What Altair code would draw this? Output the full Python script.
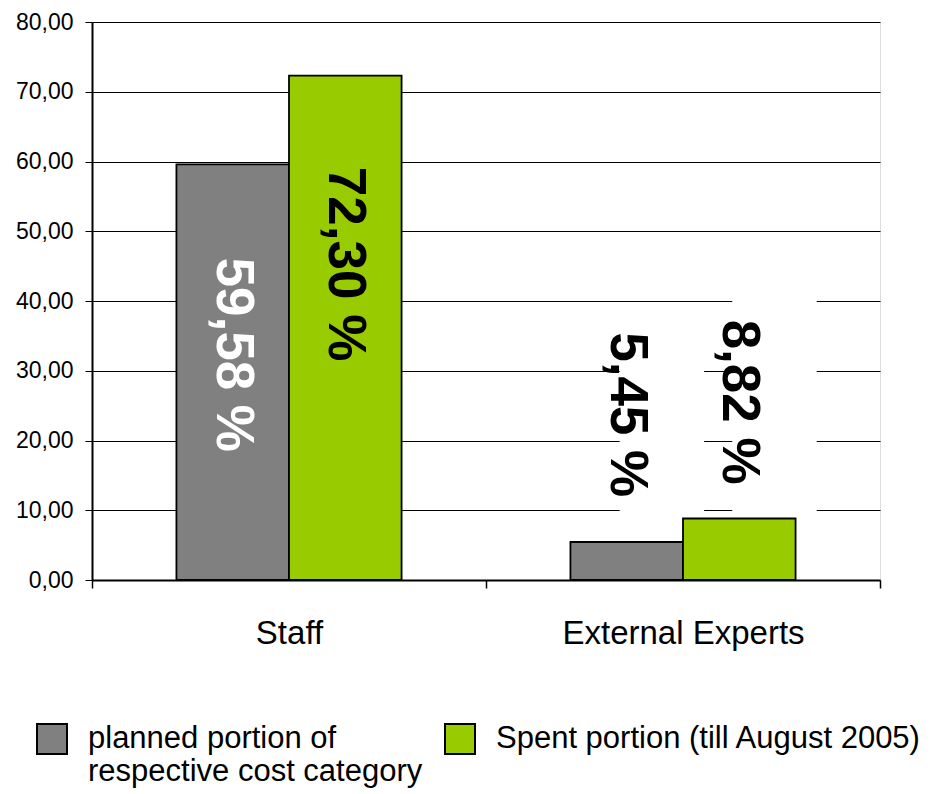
import json
import altair as alt
import pandas as pd

categories = ["Staff", "External Experts"]
series = ["planned portion of respective cost category", "Spent portion (till August 2005)"]
legend_lines = [["planned portion of", "respective cost category"], ["Spent portion (till August 2005)"]]
planned = [59.58, 5.45]
spent = [72.30, 8.82]
planned_label_pos = [32.3, 23.7]
spent_label_pos = [45.3, 25.5]
planned_text_color = ["white", "black"]
spent_text_color = ["black", "black"]
planned_box_low = [None, 9.3]
planned_box_high = [None, 38.5]
spent_box_low = [None, 9.3]
spent_box_high = [None, 41.0]
colors = ["#808080", "#99CC00"]

rows = []
for i, c in enumerate(categories):
    for s, vals, pos, tc, bl, bh in [
        (series[0], planned, planned_label_pos, planned_text_color, planned_box_low, planned_box_high),
        (series[1], spent, spent_label_pos, spent_text_color, spent_box_low, spent_box_high),
    ]:
        rows.append({
            "category": c,
            "series": s,
            "value": vals[i],
            "label": f"{vals[i]:.2f}".replace(".", ",") + " %",
            "label_pos": pos[i],
            "text_color": tc[i],
            "box_low": bl[i],
            "box_high": bh[i],
        })
df = pd.DataFrame(rows)

# legend labels: padded to two lines so both entries share the same height
padded = []
for lines in legend_lines:
    p = list(lines)
    while len(p) < 2:
        p.append("")
    padded.append(p)
legend_expr = (f"datum.label == {json.dumps(series[0])} ? {json.dumps(padded[0])} : "
               f"{json.dumps(padded[1])}")

FONT = "Arial, Liberation Sans"

x_enc = alt.X("category:N", sort=categories, title=None,
              scale=alt.Scale(paddingInner=0, paddingOuter=0),
              axis=alt.Axis(labelAngle=0, labelFontSize=33, labelFont=FONT, labelColor="black",
                            labelPadding=29, labelLimit=500, tickBand="extent", tickSize=8,
                            tickColor="black", tickWidth=1.5, domainColor="black",
                            domainWidth=2, grid=False))
xo_enc = alt.XOffset("series:N", sort=series,
                     scale=alt.Scale(paddingInner=0, paddingOuter=0.75))

bars = alt.Chart(df).mark_bar(stroke="black", strokeWidth=1.8).encode(
    x=x_enc,
    xOffset=xo_enc,
    y=alt.Y("value:Q", title=None,
            scale=alt.Scale(domain=[0, 80], nice=False),
            axis=alt.Axis(values=[0, 10, 20, 30, 40, 50, 60, 70, 80],
                          labelExpr="replace(format(datum.value, '.2f'), '.', ',')",
                          labelFontSize=23, labelFont=FONT, labelColor="black",
                          labelPadding=12, tickSize=7, tickColor="black",
                          domainColor="black", domainWidth=2,
                          grid=True, gridColor="black", gridWidth=1)),
    color=alt.Color("series:N", sort=series,
                    scale=alt.Scale(domain=series, range=colors),
                    legend=alt.Legend(title=None, orient="none", legendX=-56, legendY=701,
                                      direction="horizontal", columns=2,
                                      symbolType="square", symbolSize=900,
                                      symbolStrokeColor="black", symbolStrokeWidth=2,
                                      symbolOpacity=1,
                                      labelFontSize=31, labelFont=FONT, labelColor="black",
                                      labelLimit=1000, labelOffset=20, columnPadding=18,
                                      labelBaseline="middle",
                                      labelExpr=legend_expr)),
)

boxes = alt.Chart(df).transform_filter("datum.box_low != null").mark_bar(
    color="white", width={"band": 0.75}
).encode(
    x=alt.X("category:N", sort=categories),
    xOffset=alt.XOffset("series:N", sort=series),
    y=alt.Y("box_low:Q"),
    y2="box_high:Q",
)

texts = alt.Chart(df).mark_text(
    angle=90, fontSize=53, fontWeight="bold", font=FONT, align="center", baseline="middle"
).encode(
    x=alt.X("category:N", sort=categories),
    xOffset=alt.XOffset("series:N", sort=series),
    y=alt.Y("label_pos:Q"),
    text="label:N",
    color=alt.Color("text_color:N", scale=None),
)

chart = alt.layer(bars, boxes, texts).properties(
    width=788, height=558,
    autosize=alt.AutoSizeParams(type="none"),
    padding={"left": 84, "top": 14, "right": 49, "bottom": 212},
).configure_view(stroke="#999999", strokeWidth=2).configure(background="white")

chart.save("out.html", embed_options={"renderer": "svg", "actions": False})
